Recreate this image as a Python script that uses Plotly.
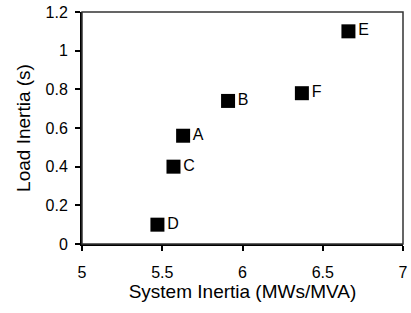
import plotly.graph_objects as go

labels = ["A", "B", "C", "D", "E", "F"]
system_inertia = [5.63, 5.91, 5.57, 5.47, 6.66, 6.37]
load_inertia = [0.56, 0.74, 0.40, 0.10, 1.10, 0.78]

x_ticks = [5, 5.5, 6, 6.5, 7]
x_tick_text = ["5", "5.5", "6", "6.5", "7"]
y_ticks = [0, 0.2, 0.4, 0.6, 0.8, 1.0, 1.2]
y_tick_text = ["0", "0.2", "0.4", "0.6", "0.8", "1", "1.2"]

font = dict(family="Liberation Sans, Arial, sans-serif", size=16, color="black")

fig = go.Figure()
fig.add_trace(go.Scatter(
    x=system_inertia, y=load_inertia, mode="markers+text",
    text=labels, textposition="middle right",
    textfont=font,
    marker=dict(symbol="square", size=14, color="black"),
    cliponaxis=False,
))

fig.update_layout(
    width=411, height=313,
    margin=dict(l=82, r=8, t=12, b=69),
    paper_bgcolor="white", plot_bgcolor="white",
    showlegend=False, font=font,
    xaxis=dict(range=[5, 7], tickvals=x_ticks, ticktext=x_tick_text,
               automargin=False, ticklabelstandoff=8, ticklabeloverflow="allow",
               showgrid=False, zeroline=False, showline=True, linewidth=2,
               linecolor="black", ticks="outside", ticklen=5, tickwidth=2,
               tickcolor="black", title=dict(text="System Inertia (MWs/MVA)", standoff=4)),
    yaxis=dict(range=[0, 1.2], tickvals=y_ticks, ticktext=y_tick_text,
               automargin=False, ticklabelstandoff=4, ticklabeloverflow="allow",
               showgrid=False, zeroline=False, showline=True, linewidth=2,
               linecolor="black", ticks="outside", ticklen=5, tickwidth=2,
               tickcolor="black", title=dict(text="Load Inertia (s)", standoff=10)),
    shapes=[dict(type="rect", xref="paper", yref="paper", x0=0, y0=0, x1=1, y1=1,
                 line=dict(color="#333", width=1.5))],
)

fig.write_html("out.html",
               config={"displayModeBar": False},
               post_script="document.body.style.margin='0';document.body.style.overflow='hidden';")
